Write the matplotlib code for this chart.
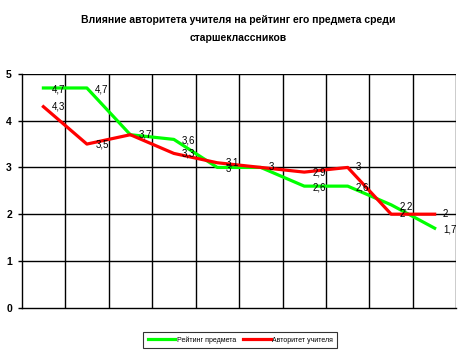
import numpy as np
import matplotlib.pyplot as plt

plt.rcParams['font.family'] = ['Liberation Sans', 'DejaVu Sans']

# data
categories = list(range(1, 11))
rating = [4.7, 4.7, 3.7, 3.6, 3.0, 3.0, 2.6, 2.6, 2.2, 1.7]
authority = [4.3, 3.5, 3.7, 3.3, 3.1, 3.0, 2.9, 3.0, 2.0, 2.0]
rating_labels = ['4,7', '4,7', '', '3,6', '3', '', '2,6', '2,6', '2,2', '1,7']
authority_labels = ['4,3', '3,5', '3,7', '3,3', '3,1', '3', '2,9', '3', '2', '2']

fig = plt.figure(figsize=(4.71, 3.59), dpi=100)
ax = fig.add_axes([0.046, 0.143, 0.923, 0.651])

x = np.arange(len(categories))
ax.plot(x, rating, color='#00ff00', lw=2.3, label='Рейтинг предмета', zorder=3)
ax.plot(x, authority, color='#ff0000', lw=2.3, label='Авторитет учителя', zorder=4)

for xi, yi, t in zip(x, rating, rating_labels):
    if t:
        ax.annotate(t, (xi, yi), xytext=(6, -1), textcoords='offset points',
                    va='center', ha='left', fontsize=7, zorder=5)
for xi, yi, t in zip(x, authority, authority_labels):
    ax.annotate(t, (xi, yi), xytext=(6, 0), textcoords='offset points',
                va='center', ha='left', fontsize=7, zorder=5)

ax.set_xlim(-0.5, len(categories) - 0.5)
ax.set_ylim(0, 5)
ax.set_yticks(range(6))
ax.set_xticks([])
for b in np.arange(0.5, len(categories) - 0.5 + 0.01, 1.0):
    ax.axvline(b, color='black', lw=1, zorder=1)
for v in range(1, 6):
    ax.axhline(v, color='black', lw=1, zorder=1)
ax.tick_params(axis='y', length=3, width=1, labelsize=7.5, pad=4)
for lab in ax.get_yticklabels():
    lab.set_fontweight('bold')
for s in ['top', 'right']:
    ax.spines[s].set_visible(False)
for s in ['left', 'bottom']:
    ax.spines[s].set_linewidth(1)

fig.text(0.505, 0.918, 'Влияние авторитета учителя на рейтинг его предмета среди\nстаршеклассников',
         ha='center', va='center', fontsize=7.5, fontweight='bold', linespacing=2.0)

leg = fig.legend(loc='center', fontsize=5, ncol=2,
                 frameon=True, fancybox=False, edgecolor='black', handlelength=4,
                 columnspacing=1, handletextpad=0.2, borderpad=0.6)
leg.set_bbox_to_anchor((0.51, 0.0525), transform=fig.transFigure)
leg.get_frame().set_linewidth(0.8)

fig.savefig('out.png', dpi=100)
